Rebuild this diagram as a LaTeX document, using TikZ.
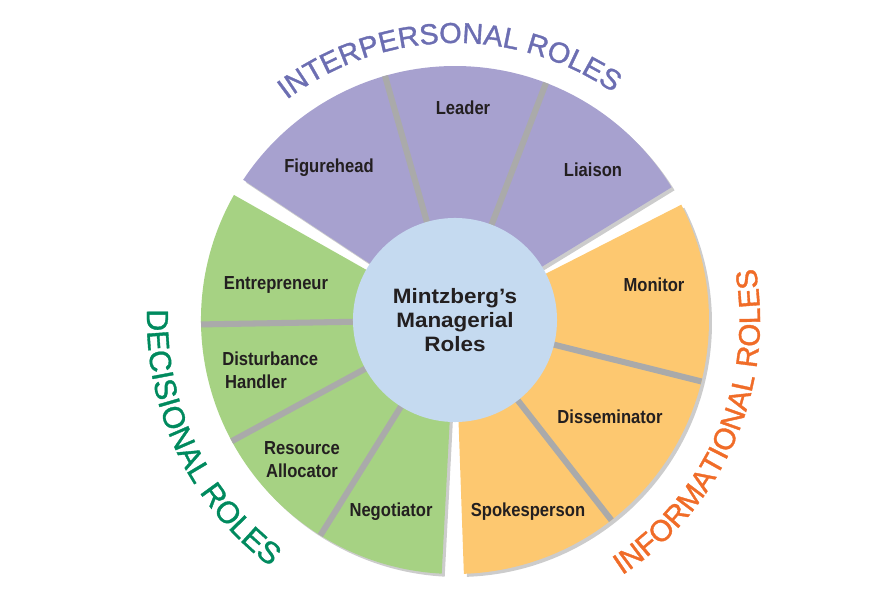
\documentclass[tikz,border=0pt]{standalone}
\usepackage{fontspec}
\setmainfont{Liberation Sans}
\newfontfamily\rolefont[FakeStretch=0.88]{Liberation Sans}
\newfontfamily\hubfont[FakeStretch=1.08]{Liberation Sans}
\newfontfamily\titlefont[FakeBold=1.2]{Liberation Sans}
\usepackage{tikz}
\usetikzlibrary{decorations.text}
\definecolor{interrole}{RGB}{167,161,207}
\definecolor{decirole}{RGB}{166,210,131}
\definecolor{inforole}{RGB}{253,200,112}
\definecolor{hubfill}{RGB}{197,218,240}
\definecolor{intertitle}{RGB}{108,110,178}
\definecolor{decititle}{RGB}{0,138,94}
\definecolor{infotitle}{RGB}{240,108,40}
\definecolor{gapgray}{RGB}{170,170,170}
\definecolor{labeltext}{RGB}{35,31,32}
\newcommand{\rolegroup}[3]{%
  \fill[black!20] ([shift={(3,-3)}]hubc) -- ++(#1:254) arc[start angle=#1,end angle=#2,radius=254] -- cycle;%
  \fill[#3] (hubc) -- ++(#1:254) arc[start angle=#1,end angle=#2,radius=254] -- cycle;%
}
\newcommand{\roletitle}[7]{%
  \path (hubc) ++(#2:#4) coordinate (#1);%
  \path[decorate,decoration={text along path,text align=center,text color=#6,
    text={|\titlefont\fontsize{#5}{#5}\selectfont|#7}}]
    (#1) arc[start angle=#2,end angle=#3,radius=#4];%
}
\tikzset{
  rolelabel/.style={font=\rolefont\bfseries\fontsize{13.4}{16.4}\selectfont,
    text=labeltext,inner sep=0pt},
  hubdisc/.style={circle,fill=hubfill,minimum size=5.1cm,inner sep=0pt,align=center,
    font=\hubfont\bfseries\fontsize{14.8}{17}\selectfont,text=labeltext},
  rolegap/.style={gapgray,line width=4.3pt}
}

\begin{document}
\begin{tikzpicture}[x=0.025cm,y=0.025cm]
  \useasboundingbox (0,0) rectangle (876,611);
  \coordinate (hubc) at (455,291);
  % the three groups of roles
  \rolegroup{31.5}{146.5}{interrole}
  \rolegroup{150.5}{267}{decirole}
  \rolegroup{-88}{27}{inforole}
  \foreach \a in {69,106,-14,-52,181,208.5,238}
    \draw[rolegap] (hubc) -- ++(\a:254);
  \node[hubdisc] (hub) at (hubc) {Mintzberg’s\\Managerial\\Roles};
  % role labels
  \node[rolelabel] (leader) at (463,503) {Leader};
  \node[rolelabel] (figurehead) at (329,443) {Figurehead};
  \node[rolelabel] (liaison) at (593,441) {Liaison};
  \node[rolelabel] (monitor) at (654,326) {Monitor};
  \node[rolelabel] (disseminator) at (610,194) {Disseminator};
  \node[rolelabel] (spokesperson) at (528,99) {Spokesperson};
  \node[rolelabel] (entrepreneur) at (276,326) {Entrepreneur};
  \node[rolelabel,anchor=west,align=left] (disturbance) at (222,241) {Disturbance\\\hspace*{2pt}Handler};
  \node[rolelabel,align=center] (resource) at (302,151) {Resource\\Allocator};
  \node[rolelabel] (negotiator) at (391,99) {Negotiator};
  % curved group titles
  \roletitle{intertitlestart}{151.25}{31.25}{277}{20.5}{intertitle}{INTERPERSONAL ROLES}
  \roletitle{infotitlestart}{276.5}{396.5}{305}{21.2}{infotitle}{INFORMATIONAL ROLES}
  \roletitle{decititlestart}{145.6}{265.6}{308}{21.7}{decititle}{DECISIONAL ROLES}
\end{tikzpicture}
\end{document}
